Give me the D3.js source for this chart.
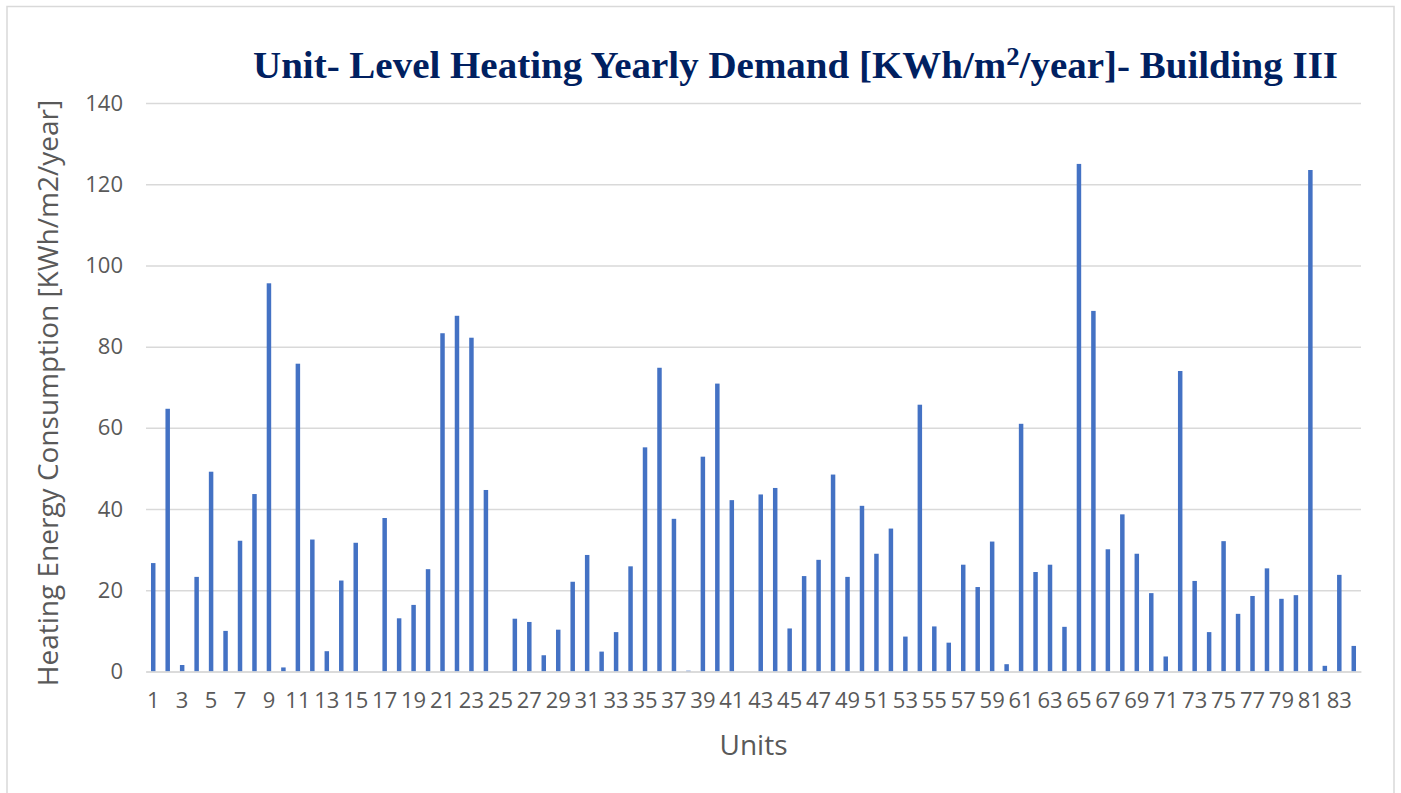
<!DOCTYPE html>
<html>
<head>
<meta charset="utf-8">
<script src="https://cdn.jsdelivr.net/npm/d3@7"></script>
<style>
  html, body { margin: 0; padding: 0; background: #ffffff; }
  svg { display: block; }
</style>
</head>
<body>
<script>
// ---- data ----
const units = ["1","2","3","4","5","6","7","8","9","10","11","12","13","14","15","16","17","18","19","20",
  "21","22","23","24","25","26","27","28","29","30","31","32","33","34","35","36","37","38","39","40",
  "41","42","43","44","45","46","47","48","49","50","51","52","53","54","55","56","57","58","59","60",
  "61","62","63","64","65","66","67","68","69","70","71","72","73","74","75","76","77","78","79","80",
  "81","82","83","84"];
const heatingDemand = [26.7, 64.7, 1.6, 23.3, 49.2, 10.0, 32.2, 43.7, 95.6, 1.0,
  75.8, 32.5, 5.0, 22.4, 31.7, 0, 37.8, 13.1, 16.4, 25.2,
  83.3, 87.6, 82.2, 44.7, 0, 13.0, 12.2, 4.0, 10.3, 22.1,
  28.7, 4.9, 9.7, 25.9, 55.2, 74.8, 37.6, 0.2, 52.9, 70.9,
  42.2, 0, 43.6, 45.2, 10.6, 23.5, 27.5, 48.5, 23.3, 40.8,
  29.0, 35.2, 8.6, 65.7, 11.1, 7.1, 26.3, 20.8, 32.0, 1.8,
  61.0, 24.5, 26.3, 11.0, 125.0, 88.8, 30.1, 38.7, 29.0, 19.3,
  3.7, 74.0, 22.3, 9.7, 32.1, 14.2, 18.6, 25.4, 17.9, 18.8,
  123.5, 1.4, 23.8, 6.3];
const yTicks = [0, 20, 40, 60, 80, 100, 120, 140];
const xTickLabels = ["1","3","5","7","9","11","13","15","17","19","21","23","25","27","29","31","33","35","37","39",
  "41","43","45","47","49","51","53","55","57","59","61","63","65","67","69","71","73","75","77","79","81","83"];
const titleParts = ["Unit- Level Heating Yearly Demand [KWh/m", "2", "/year]- Building III"];
const yTitle = "Heating Energy Consumption [KWh/m2/year]";
const xTitle = "Units";

// ---- layout ----
const W = 1401, H = 793;
const plot = { left: 146, right: 1361, top: 103, bottom: 671.5 };
const sans = "'Open Sans', 'Noto Sans', sans-serif";

const svg = d3.select("body").append("svg").attr("width", W).attr("height", H);
svg.append("rect").attr("width", W).attr("height", H).attr("fill", "#ffffff");
svg.append("rect").attr("x", 7).attr("y", 6.5).attr("width", 1387).attr("height", 820)
  .attr("fill", "none").attr("stroke", "#d9d9d9").attr("stroke-width", 1.5);

const x = d3.scaleBand().domain(units).range([plot.left, plot.right])
  .paddingInner(0.69).paddingOuter(0.345);
const y = d3.scaleLinear().domain([0, 140]).range([plot.bottom, plot.top]);

// gridlines via axis
const yGrid = svg.append("g").attr("transform", `translate(${plot.left},0)`)
  .call(d3.axisLeft(y).tickValues(yTicks).tickSize(-(plot.right - plot.left)).tickFormat(""));
yGrid.select(".domain").remove();
yGrid.selectAll(".tick line").attr("stroke", "#d9d9d9").attr("stroke-width", 1.5);

// y tick labels
const yAxis = svg.append("g").attr("transform", `translate(${plot.left},0)`)
  .call(d3.axisLeft(y).tickValues(yTicks).tickSize(0).tickPadding(23));
yAxis.select(".domain").remove();
yAxis.selectAll("text").attr("font-family", sans).attr("font-size", 22).attr("fill", "#595959");

// bars
svg.append("g").selectAll("rect").data(heatingDemand).join("rect")
  .attr("x", (d, i) => x(units[i]))
  .attr("width", x.bandwidth())
  .attr("y", d => y(d))
  .attr("height", d => y(0) - y(d))
  .attr("fill", "#4472c4");

// x axis
const xAxis = svg.append("g").attr("transform", `translate(0,${plot.bottom})`)
  .call(d3.axisBottom(x).tickValues(xTickLabels).tickSize(0).tickPadding(21));
xAxis.select(".domain").attr("stroke", "#d9d9d9").attr("stroke-width", 1.5);
xAxis.selectAll("text").attr("font-family", sans).attr("font-size", 22).attr("fill", "#595959");

// axis titles
svg.append("text")
  .attr("transform", `translate(58,393) rotate(-90)`)
  .attr("text-anchor", "middle")
  .attr("font-family", sans).attr("font-size", 28).attr("fill", "#595959")
  .text(yTitle);
svg.append("text")
  .attr("x", (plot.left + plot.right) / 2).attr("y", 755)
  .attr("text-anchor", "middle")
  .attr("font-family", sans).attr("font-size", 28).attr("fill", "#595959")
  .text(xTitle);

// title
const t = svg.append("text")
  .attr("x", 253).attr("y", 78)
  .attr("font-family", "'Liberation Serif', 'DejaVu Serif', serif")
  .attr("font-weight", "bold").attr("font-size", 38).attr("fill", "#002060")
  .attr("textLength", 1085).attr("lengthAdjust", "spacingAndGlyphs");
t.append("tspan").text(titleParts[0]);
t.append("tspan").attr("dy", -13).attr("font-size", 26).text(titleParts[1]);
t.append("tspan").attr("dy", 13).text(titleParts[2]);
</script>
</body>
</html>
